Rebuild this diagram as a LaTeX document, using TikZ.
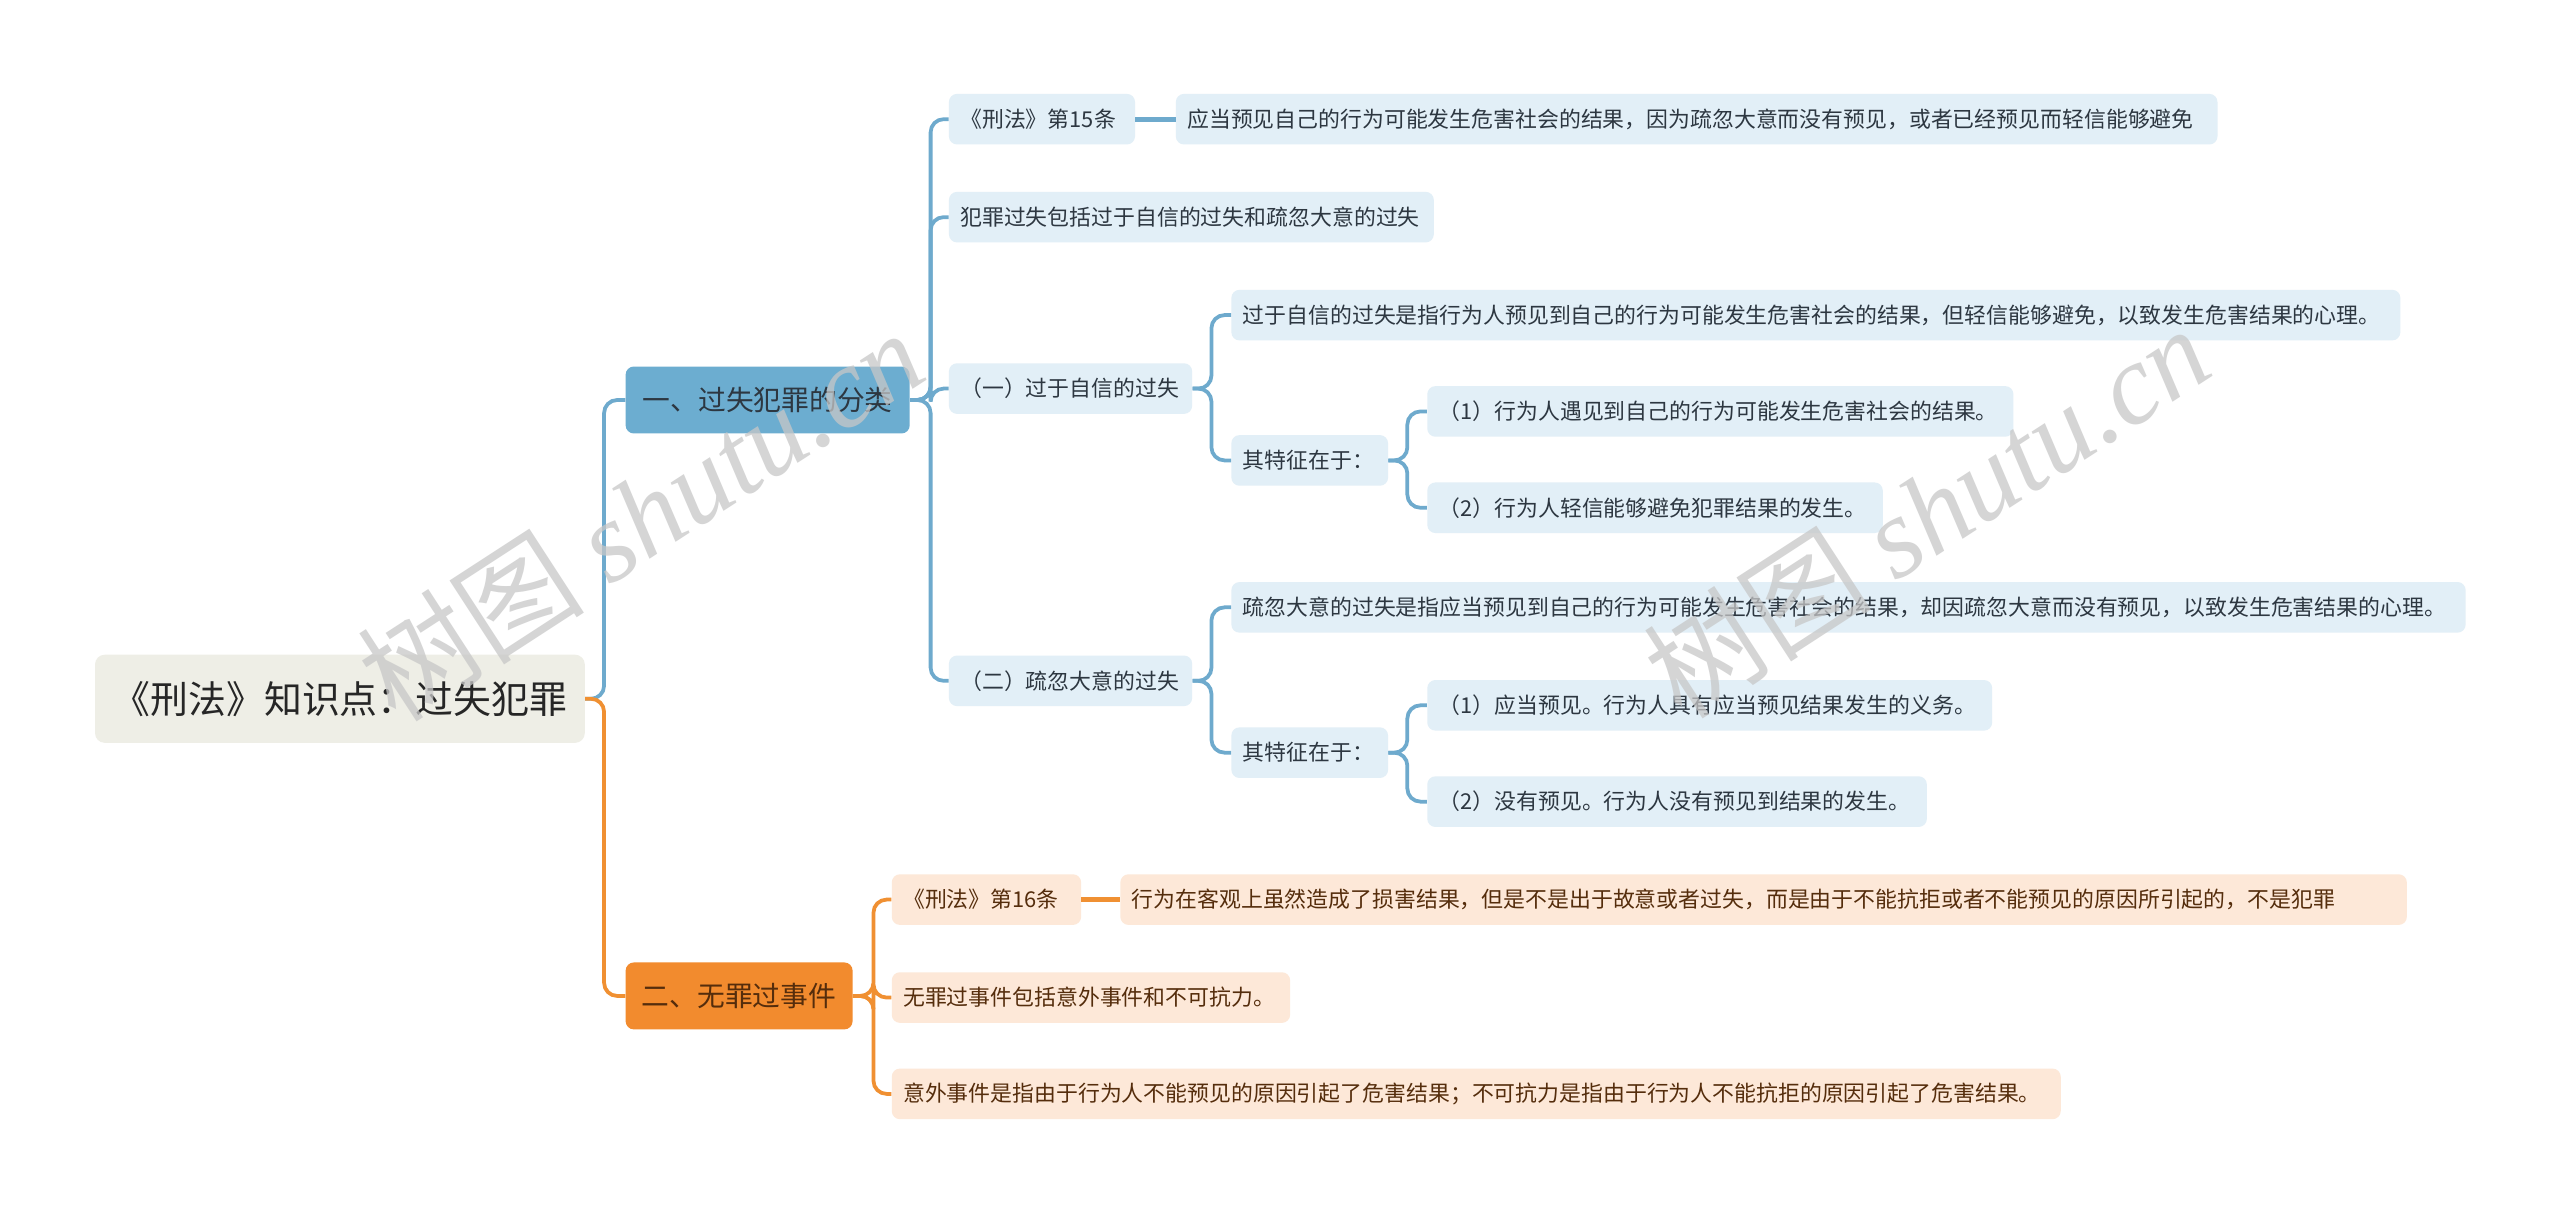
\documentclass[tikz,border=0pt]{standalone}
\usepackage{fontspec}
\setmainfont{Noto Sans CJK SC}
\newfontfamily\wmfont{Liberation Serif}
\newfontfamily\cjkfont{Noto Sans CJK SC}
\definecolor{lblue}{RGB}{226,239,247}
\definecolor{mblue}{RGB}{108,173,208}
\definecolor{lineblue}{RGB}{110,170,205}
\definecolor{lorange}{RGB}{253,232,216}
\definecolor{morange}{RGB}{242,139,46}
\definecolor{lineorange}{RGB}{240,144,50}
\definecolor{rootfill}{RGB}{238,238,230}
\definecolor{btext}{RGB}{45,55,65}
\definecolor{otext}{RGB}{85,45,12}
\tikzset{
  leafb/.style={fill=lblue, rounded corners=5pt, text=btext, anchor=west,
    minimum height=31pt, inner xsep=7pt, inner ysep=0pt, align=left,
    text width=#1-14pt,
    font=\fontsize{13.4}{16}\selectfont},
  leafo/.style={leafb=#1, fill=lorange, text=otext},
  lvlb/.style={fill=mblue, rounded corners=5pt, text=btext, anchor=west,
    minimum height=41pt, minimum width=174pt, inner xsep=8pt, inner ysep=0pt,
    font=\fontsize{17}{20}\selectfont},
  lvlo/.style={lvlb, fill=morange, text=otext, minimum width=139pt},
  rootbox/.style={fill=rootfill, rounded corners=6pt, text=black!85, anchor=west,
    minimum height=54pt, minimum width=300pt, inner xsep=10pt,
    font=\fontsize{23.2}{27}\selectfont},
  lb/.style={draw=lineblue, line width=2.3pt, rounded corners=8pt},
  lo/.style={draw=lineorange, line width=2.3pt, rounded corners=8pt},
  wm/.style={text=black!22, opacity=0.75, rotate=33, font=\fontsize{70}{80}\selectfont}
}
\begin{document}
\begin{tikzpicture}[x=1pt,y=-1pt]
\useasboundingbox[fill=white] (0,0) rectangle (1568,743.5);
% root
\node[rootbox] (root) at (58,428) {《刑法》知识点：过失犯罪};
\node[lvlb] (n1) at (383,245) {一、过失犯罪的分类};
\node[lvlo] (n2) at (383,610) {二、无罪过事件};
% branch 1
\node[leafb=114pt] (a1) at (581,73) {《刑法》第15条};
\node[leafb=638pt] (a1t) at (720,73) {应当预见自己的行为可能发生危害社会的结果，因为疏忽大意而没有预见，或者已经预见而轻信能够避免};
\node[leafb=297pt] (a2) at (581,133) {犯罪过失包括过于自信的过失和疏忽大意的过失};
\node[leafb=149pt] (a3) at (581,238) {（一）过于自信的过失};
\node[leafb=149pt] (a4) at (581,417) {（二）疏忽大意的过失};
\node[leafb=716pt] (b1) at (754,193) {过于自信的过失是指行为人预见到自己的行为可能发生危害社会的结果，但轻信能够避免，以致发生危害结果的心理。};
\node[leafb=96pt] (b2) at (754,282) {其特征在于：};
\node[leafb=359pt] (c1) at (874,252) {（1）行为人遇见到自己的行为可能发生危害社会的结果。};
\node[leafb=279pt] (c2) at (874,311) {（2）行为人轻信能够避免犯罪结果的发生。};
\node[leafb=756pt] (d1) at (754,372) {疏忽大意的过失是指应当预见到自己的行为可能发生危害社会的结果，却因疏忽大意而没有预见，以致发生危害结果的心理。};
\node[leafb=96pt] (d2) at (754,461) {其特征在于：};
\node[leafb=346pt] (e1) at (874,432) {（1）应当预见。行为人具有应当预见结果发生的义务。};
\node[leafb=306pt] (e2) at (874,491) {（2）没有预见。行为人没有预见到结果的发生。};
% branch 2
\node[leafo=116pt] (f1) at (546,551) {《刑法》第16条};
\node[leafo=788pt] (f1t) at (686,551) {行为在客观上虽然造成了损害结果，但是不是出于故意或者过失，而是由于不能抗拒或者不能预见的原因所引起的，不是犯罪};
\node[leafo=244pt] (f2) at (546,611) {无罪过事件包括意外事件和不可抗力。};
\node[leafo=716pt] (f3) at (546,670) {意外事件是指由于行为人不能预见的原因引起了危害结果；不可抗力是指由于行为人不能抗拒的原因引起了危害结果。};
% connectors root
\coordinate (rs) at (370,428);
\draw[lb] (root.east) -- (rs) |- (n1.west);
\draw[lo] (root.east) -- (rs) |- (n2.west);
% connectors level 1 blue
\coordinate (s1) at (570,245);
\foreach \c in {a1,a2,a3,a4} \draw[lb] (n1.east) -- (s1) |- (\c.west);
\draw[draw=lineblue, line width=3pt] (a1.east) -- (a1t.west);
\coordinate (s2) at (742,238);
\foreach \c in {b1,b2} \draw[lb] (a3.east) -- (s2) |- (\c.west);
\coordinate (s3) at (862,282);
\foreach \c in {c1,c2} \draw[lb] (b2.east) -- (s3) |- (\c.west);
\coordinate (s4) at (742,417);
\foreach \c in {d1,d2} \draw[lb] (a4.east) -- (s4) |- (\c.west);
\coordinate (s5) at (862,461);
\foreach \c in {e1,e2} \draw[lb] (d2.east) -- (s5) |- (\c.west);
% connectors level 1 orange
\coordinate (s6) at (535,610);
\foreach \c in {f1,f2,f3} \draw[lo] (n2.east) -- (s6) |- (\c.west);
\draw[draw=lineorange, line width=3pt] (f1.east) -- (f1t.west);
% watermarks
\node[wm] (wm1) at (392,315) {树图 {\wmfont\itshape shutu.cn}};
\node[wm] (wm2) at (1180,313) {树图 {\wmfont\itshape shutu.cn}};
\end{tikzpicture}
\end{document}
